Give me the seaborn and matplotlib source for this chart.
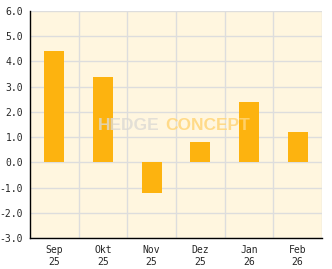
import matplotlib
matplotlib.use("Agg")
import matplotlib.pyplot as plt
import seaborn as sns
import pandas as pd
import numpy as np
from matplotlib.ticker import MultipleLocator, FixedLocator

months = ["Sep\n25", "Okt\n25", "Nov\n25", "Dez\n25", "Jan\n26", "Feb\n26"]
values = [4.4, 3.4, -1.2, 0.8, 2.4, 1.2]
y_ticks = [-3.0, -2.0, -1.0, 0.0, 1.0, 2.0, 3.0, 4.0, 5.0, 6.0]

df = pd.DataFrame({"month": months, "value": values})

sns.set_style("white")
plt.rcParams['font.family'] = ['DejaVu Sans Mono', 'DejaVu Sans']

fig = plt.figure(figsize=(3.32, 2.69), dpi=100)
ax = fig.add_axes([30/332, 31/269, 292/332, 227/269])
ax.set_facecolor("#FFF6DF")

sns.barplot(data=df, x="month", y="value", color="#FDB30F", width=0.41,
            saturation=1, ax=ax, zorder=3, linewidth=0, edgecolor="none")

ax.set_xlim(-0.5, 5.5)
ax.set_ylim(-3.0, 6.0)
ax.set_yticks(y_ticks)
ax.set_yticklabels([f"{v:.1f}" for v in y_ticks], fontsize=7)
ax.yaxis.set_minor_locator(MultipleLocator(0.5))
ax.set_xticks(range(len(months)))
ax.set_xticklabels(months, fontsize=7, linespacing=1.3)
ax.set_xlabel("")
ax.set_ylabel("")

# grid
for y in y_ticks:
    ax.axhline(y, color="#DDDDDD", lw=1, zorder=1)
for x in np.arange(0.5, 6.0, 1.0):
    ax.axvline(x, color="#DDDDDD", lw=1, zorder=1)

ax.tick_params(axis="y", which="major", direction="in", length=4, width=1,
               color="black", pad=5)
ax.tick_params(axis="y", which="minor", direction="in", length=4, width=1,
               color="black")
ax.tick_params(axis="x", which="major", length=0, pad=5)
ax.xaxis.set_minor_locator(FixedLocator(np.arange(0.5, 5.6, 1.0)))
ax.tick_params(axis="x", which="minor", direction="in", length=4, width=1,
               color="black")

for s in ["top", "right"]:
    ax.spines[s].set_visible(False)
for s in ["left", "bottom"]:
    ax.spines[s].set_color("black")
    ax.spines[s].set_linewidth(1)

# watermark
ax.text(2.17, 1.53, "HEDGE", ha="right", va="center_baseline",
        fontsize=12.5, fontweight="bold", family="Liberation Sans",
        color="#DCDAD4", alpha=0.8, zorder=4)
ax.text(2.27, 1.53, "CONCEPT", ha="left", va="center_baseline",
        fontsize=12.5, fontweight="bold", family="Liberation Sans",
        color="#FFD67A", alpha=0.85, zorder=4)

fig.savefig("out.png", dpi=100, facecolor="white")
